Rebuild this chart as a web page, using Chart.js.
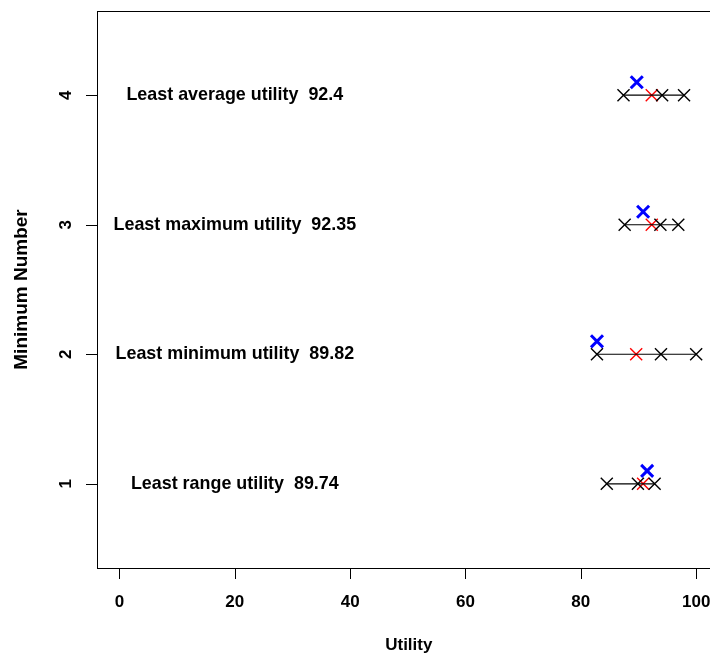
<!DOCTYPE html>
<html>
<head>
<meta charset="utf-8">
<script src="https://cdn.jsdelivr.net/npm/chart.js@4.4.1/dist/chart.umd.min.js"></script>
<style>
  html, body { margin: 0; padding: 0; background: #fff; }
  #myChart { display: block; }
</style>
</head>
<body>
<canvas id="myChart" width="710" height="653"></canvas>
<script>
// rows of the plot (Minimum Number)
var rows = [1, 2, 3, 4];
var rowLabels = [
    'Least range utility  89.74',
    'Least minimum utility  89.82',
    'Least maximum utility  92.35',
    'Least average utility  92.4'
];
// black X marks per row
var blackVals = [
    [84.5, 89.9, 92.8],
    [82.8, 93.9, 100.0],
    [87.6, 93.8, 96.9],
    [87.4, 94.1, 97.9]
];
var redVals = [90.8, 89.6, 92.3, 92.3];
var blueVals = [91.5, 82.8, 90.8, 89.7];
var blueLift = 0.1;
var xTicks = [0, 20, 40, 60, 80, 100];
var yTicks = [1, 2, 3, 4];
var labelX = 20;

var FAMILY = '"Liberation Sans", Arial, sans-serif';

function buildDatasets() {
    var sets = [];
    for (var i = 0; i < rows.length; i++) {
        var lo = Math.min.apply(null, blackVals[i]);
        var hi = Math.max.apply(null, blackVals[i]);
        sets.push({
            data: [{x: lo, y: rows[i]}, {x: hi, y: rows[i]}],
            showLine: true,
            borderColor: '#000',
            borderWidth: 1.2,
            pointRadius: 0
        });
    }
    var black = [];
    for (var i = 0; i < rows.length; i++) {
        for (var j = 0; j < blackVals[i].length; j++) {
            black.push({x: blackVals[i][j], y: rows[i]});
        }
    }
    sets.push({
        data: black,
        pointStyle: 'crossRot',
        pointRadius: 8.5,
        borderColor: '#000',
        borderWidth: 1.4
    });
    sets.push({
        data: redVals.map(function(v, i) { return {x: v, y: rows[i]}; }),
        pointStyle: 'crossRot',
        pointRadius: 8.5,
        borderColor: '#ff0000',
        borderWidth: 1.4
    });
    sets.push({
        data: blueVals.map(function(v, i) { return {x: v, y: rows[i] + blueLift}; }),
        pointStyle: 'crossRot',
        pointRadius: 8.5,
        borderColor: '#0000ff',
        borderWidth: 3
    });
    return sets;
}

var axesPlugin = {
    id: 'rAxes',
    afterDraw: function(chart) {
        var ctx = chart.ctx;
        var area = chart.chartArea;
        var xs = chart.scales.x;
        var ys = chart.scales.y;
        ctx.save();
        ctx.strokeStyle = '#000';
        ctx.lineWidth = 1;
        // box
        ctx.strokeRect(area.left + 0.5, area.top + 0.5, area.right - area.left + 20, area.bottom - area.top);

        ctx.fillStyle = '#000';
        ctx.font = 'bold 17px ' + FAMILY;
        // x ticks
        ctx.beginPath();
        xTicks.forEach(function(t) {
            var px = Math.round(xs.getPixelForValue(t)) + 0.5;
            ctx.moveTo(px, area.bottom);
            ctx.lineTo(px, area.bottom + 11);
        });
        ctx.stroke();
        ctx.textAlign = 'center';
        ctx.textBaseline = 'middle';
        xTicks.forEach(function(t) {
            ctx.fillText(String(t), xs.getPixelForValue(t), 602);
        });
        ctx.fillText('Utility', (xs.getPixelForValue(0) + xs.getPixelForValue(100)) / 2 + 1, 645);

        // y ticks
        ctx.beginPath();
        yTicks.forEach(function(t) {
            var py = Math.round(ys.getPixelForValue(t)) + 0.5;
            ctx.moveTo(area.left - 11, py);
            ctx.lineTo(area.left, py);
        });
        ctx.stroke();
        yTicks.forEach(function(t) {
            ctx.save();
            ctx.translate(66, ys.getPixelForValue(t));
            ctx.rotate(-Math.PI / 2);
            ctx.fillText(String(t), 0, 0);
            ctx.restore();
        });
        ctx.save();
        ctx.font = 'bold 19px ' + FAMILY;
        ctx.translate(22, (area.top + area.bottom) / 2);
        ctx.rotate(-Math.PI / 2);
        ctx.fillText('Minimum Number', 0, 0);
        ctx.restore();

        // row labels
        ctx.font = 'bold 17.9px ' + FAMILY;
        for (var i = 0; i < rows.length; i++) {
            ctx.fillText(rowLabels[i], xs.getPixelForValue(labelX), ys.getPixelForValue(rows[i]));
        }
        ctx.restore();
    }
};

function chart() {
    var ctx = document.getElementById('myChart');
    var myChart = new Chart(ctx, {
        type: 'scatter',
        data: { datasets: buildDatasets() },
        options: {
            responsive: false,
            animation: false,
            layout: { autoPadding: false, padding: { left: 97, top: 11, right: 0, bottom: 85 } },
            scales: {
                x: { type: 'linear', min: -3.9, max: 102.4, display: false },
                y: { type: 'linear', min: 0.35, max: 4.65, display: false }
            },
            plugins: {
                legend: { display: false },
                tooltip: { enabled: false }
            }
        },
        plugins: [axesPlugin]
    });
}

chart();
</script>
</body>
</html>
